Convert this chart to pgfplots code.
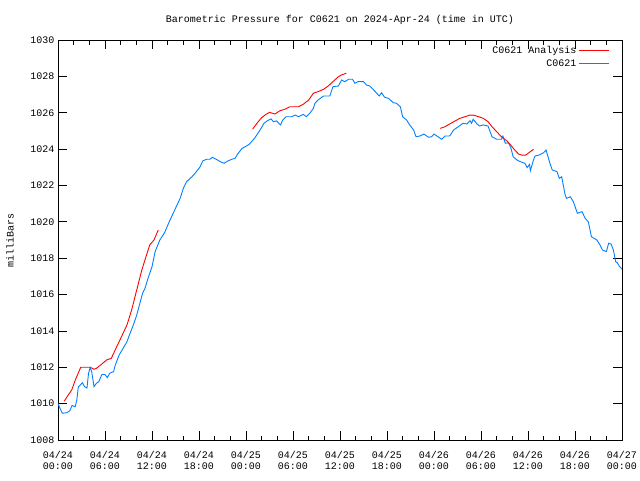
\documentclass[border=0pt]{standalone}
\usepackage{pgfplots}
\pgfplotsset{compat=1.18}
\usepackage{fontspec}
\setmainfont{Liberation Mono}
\definecolor{gpred}{RGB}{255,0,0}
\definecolor{gpblue}{RGB}{0,128,255}
\begin{document}
\begin{tikzpicture}[font=\fontsize{10}{12}\selectfont]
\path[use as bounding box] (-58pt,-40pt) rectangle (582pt,440pt);
\begin{axis}[
  at={(0pt,0pt)}, anchor=origin,
  scale only axis, width=564pt, height=400pt,
  xmin=0, xmax=72, ymin=1008, ymax=1030,
  xtick={0,6,...,72},
  xticklabels={{04/24\\[-1pt]00:00},{04/24\\[-1pt]06:00},{04/24\\[-1pt]12:00},{04/24\\[-1pt]18:00},{04/25\\[-1pt]00:00},{04/25\\[-1pt]06:00},{04/25\\[-1pt]12:00},{04/25\\[-1pt]18:00},{04/26\\[-1pt]00:00},{04/26\\[-1pt]06:00},{04/26\\[-1pt]12:00},{04/26\\[-1pt]18:00},{04/27\\[-1pt]00:00}},
  xticklabel style={align=center, yshift=-7.5pt},
  minor x tick num=2,
  ytick={1008,1010,...,1030},
  /pgf/number format/assume math mode=true,
  /pgf/number format/set thousands separator={},
  tick align=inside,
  major tick length=9pt, minor tick length=4.5pt,
  tick style={black, line width=0.8pt},
  axis line style={line width=0.8pt},
  ylabel={milliBars},
  every axis y label/.style={at={(axis description cs:-0.085,0.5)}, rotate=90, anchor=center},
  title={Barometric Pressure for C0621 on 2024-Apr-24 (time in UTC)},
  title style={at={(0.5,1)}, yshift=6pt},
  legend style={draw=none, fill=none, at={(0.983,0.995)}, anchor=north east, row sep=0.5pt, font=\fontsize{10}{12}\selectfont},
  legend cell align=right, legend plot pos=right,
  legend image code/.code={\draw[#1] (0pt,0pt) -- (30pt,0pt);},
]
\addplot[gpred, line width=0.9pt] coordinates {
(0.8,1010.14)(1.3,1010.47)(1.75,1010.75)(2.25,1011.34)(2.9,1012.0)(4.1,1012.0)(4.6,1011.89)(4.9,1011.94)(5.6,1012.18)(6.2,1012.4)(6.8,1012.49)(7.3,1012.95)(8.1,1013.68)(8.8,1014.32)(9.4,1015.15)(10.05,1016.25)(10.7,1017.35)(11.3,1018.17)(11.7,1018.72)(12.25,1019.0)(12.8,1019.55)
};
\addlegendentry{C0621 Analysis}
\addplot[gpblue, line width=0.9pt] coordinates {
(0,1010.0)(0.3,1009.7)(0.55,1009.47)(1.1,1009.5)(1.5,1009.6)(1.8,1009.9)(2.2,1009.83)(2.4,1010.2)(2.6,1010.93)(2.8,1011.0)(3.1,1011.15)(3.4,1010.93)(3.7,1010.86)(3.9,1011.67)(4.1,1011.98)(4.3,1011.76)(4.6,1010.93)(4.9,1011.12)(5.2,1011.2)(5.6,1011.6)(6.0,1011.6)(6.3,1011.43)(6.6,1011.67)(7.1,1011.76)(7.3,1012.1)(7.8,1012.67)(8.3,1013.04)(8.8,1013.4)(9.2,1013.87)(9.6,1014.3)(10.05,1014.87)(10.5,1015.6)(10.8,1016.07)(11.1,1016.34)(11.5,1016.9)(12.0,1017.53)(12.4,1018.36)(13.0,1019.0)(13.6,1019.4)(14.2,1020.0)(14.9,1020.65)(15.6,1021.3)(16.0,1021.84)(16.4,1022.2)(17.1,1022.48)(17.5,1022.67)(18.1,1023.0)(18.5,1023.36)(19.0,1023.44)(19.4,1023.44)(19.7,1023.55)(20.2,1023.44)(20.7,1023.31)(21.2,1023.22)(21.7,1023.35)(22.2,1023.44)(22.6,1023.49)(23.0,1023.77)(23.5,1024.04)(23.9,1024.13)(24.4,1024.26)(25.1,1024.6)(25.8,1025.05)(26.3,1025.42)(26.7,1025.55)(27.2,1025.66)(27.5,1025.51)(27.9,1025.55)(28.4,1025.33)(28.7,1025.6)(29.1,1025.78)(29.8,1025.78)(30.3,1025.87)(30.7,1025.78)(31.3,1025.91)(31.7,1025.78)(32.2,1026.0)(32.6,1026.24)(32.8,1026.52)(33.2,1026.7)(33.9,1026.92)(34.7,1026.92)(35.1,1027.43)(35.8,1027.47)(36.2,1027.8)(36.6,1027.71)(37.1,1027.84)(37.6,1027.84)(37.9,1027.62)(38.3,1027.71)(39.0,1027.71)(39.4,1027.52)(39.8,1027.47)(40.5,1027.16)(41.0,1026.92)(41.3,1027.1)(41.7,1026.85)(42.2,1026.79)(42.8,1026.55)(43.2,1026.52)(43.7,1026.33)(44.0,1025.78)(44.5,1025.6)(44.9,1025.33)(45.4,1025.05)(45.7,1024.68)(46.2,1024.72)(46.7,1024.83)(47.3,1024.65)(47.7,1024.68)(48.0,1024.83)(48.5,1024.68)(49.0,1024.54)(49.4,1024.72)(50.0,1024.72)(50.5,1025.05)(51.1,1025.23)(51.7,1025.42)(52.2,1025.38)(52.6,1025.56)(52.8,1025.42)(53.0,1025.64)(53.5,1025.38)(53.8,1025.27)(54.3,1025.33)(54.9,1025.27)(55.4,1024.68)(56.0,1024.54)(56.6,1024.54)(56.8,1024.72)(57.1,1024.32)(57.5,1024.35)(57.8,1024.1)(58.1,1023.58)(58.6,1023.4)(59.0,1023.31)(59.6,1023.22)(59.9,1022.98)(60.2,1023.16)(60.3,1022.81)(60.7,1023.4)(60.9,1023.62)(61.4,1023.67)(62.0,1023.8)(62.3,1023.95)(62.8,1023.22)(63.1,1022.85)(63.7,1022.76)(64.0,1022.39)(64.3,1022.48)(64.7,1021.57)(64.9,1021.29)(65.4,1021.38)(65.8,1021.1)(66.3,1020.47)(66.9,1020.56)(67.3,1020.19)(67.7,1020.0)(68.1,1019.18)(68.8,1019.0)(69.2,1018.72)(69.5,1018.45)(70.0,1018.36)(70.3,1018.82)(70.6,1018.78)(70.9,1018.45)(71.2,1017.8)(71.4,1017.75)(71.7,1017.53)(72.0,1017.4)
};
\addlegendentry{C0621}
\addplot[gpred, line width=0.9pt, forget plot] coordinates {
(24.85,1025.1)(25.4,1025.42)(26.0,1025.73)(26.55,1025.91)(27.0,1026.02)(27.7,1025.93)(28.3,1026.1)(29.0,1026.2)(29.6,1026.33)(30.7,1026.33)(31.3,1026.46)(32.0,1026.7)(32.6,1027.07)(33.2,1027.16)(33.9,1027.29)(34.5,1027.47)(35.1,1027.71)(35.8,1027.98)(36.2,1028.08)(36.8,1028.17)
};
\addplot[gpred, line width=0.9pt, forget plot] coordinates {
(48.8,1025.14)(49.4,1025.23)(50.0,1025.38)(50.7,1025.55)(51.3,1025.69)(51.96,1025.78)(52.6,1025.87)(53.0,1025.87)(53.7,1025.78)(54.3,1025.69)(54.9,1025.51)(55.4,1025.23)(56.0,1024.96)(56.6,1024.68)(57.3,1024.45)(57.8,1024.22)(58.3,1023.95)(58.8,1023.73)(59.2,1023.67)(59.7,1023.67)(60.3,1023.86)(60.7,1023.99)
};
\end{axis}
\end{tikzpicture}
\end{document}
